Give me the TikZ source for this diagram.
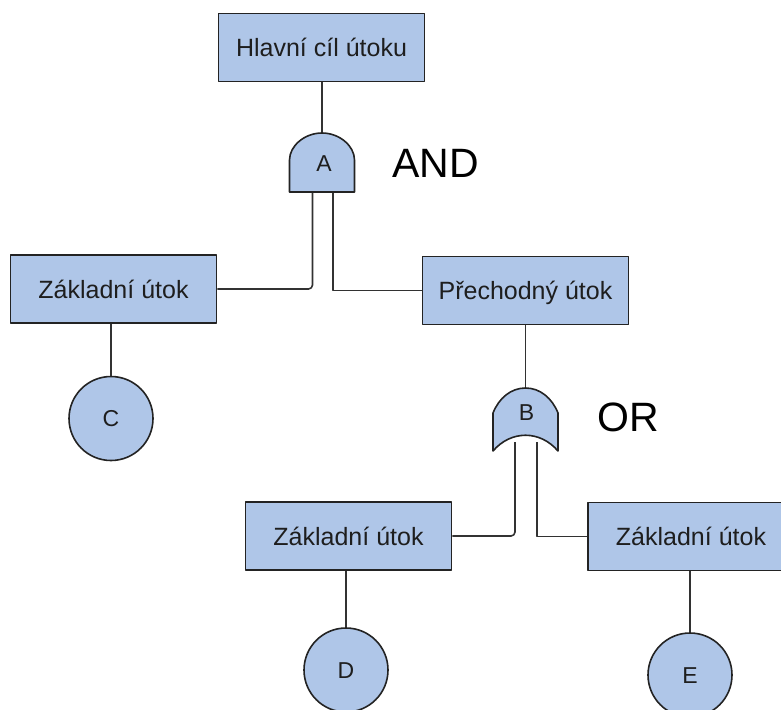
\documentclass[tikz,border=0pt]{standalone}
\usepackage{fontspec}
\setmainfont{Liberation Sans}
\begin{document}
\begin{tikzpicture}[x=1pt,y=-1pt,
  line join=round,
  attackbox/.style={draw=boxedge, line width=1.8pt, fill=nodefill, inner sep=0pt,
    minimum width=206pt, minimum height=68pt, text=labeltext,
    font=\fontsize{25}{30}\selectfont, text height=18pt, text depth=0pt},
  leaf/.style={circle, draw=boxedge, line width=1.6pt, fill=nodefill, inner sep=0pt,
    minimum size=84pt, text=labeltext,
    font=\fontsize{23}{28}\selectfont, text height=16.5pt, text depth=0pt},
  gatebody/.style={draw=boxedge, line width=1.6pt, fill=nodefill},
  gatetext/.style={inner sep=0pt, text=labeltext,
    font=\fontsize{23}{28}\selectfont, text height=16.5pt, text depth=0pt},
  gatename/.style={inner sep=0pt, anchor=west, text=black,
    font=\fontsize{41}{48}\selectfont},
  wire/.style={draw=wirecol, line width=1.6pt}
]
\definecolor{nodefill}{RGB}{175,198,232}
\definecolor{boxedge}{RGB}{35,35,35}
\definecolor{wirecol}{RGB}{50,50,50}
\definecolor{labeltext}{RGB}{30,30,30}

\useasboundingbox (0,0) rectangle (781,709);
\clip (0,0) rectangle (781,709);

% attack steps
\node[attackbox] (goal)  at (321.5,47.5)  {Hlavní cíl útoku};
\node[attackbox] (basic1) at (113.5,289)  {Základní útok};
\node[attackbox] (inter) at (525.5,290.5) {Přechodný útok};
\node[attackbox] (basic2) at (348.5,536)  {Základní útok};
\node[attackbox] (basic3) at (691,536.5)  {Základní útok};

% leaves
\node[leaf] (C) at (111,418.5) {C};
\node[leaf] (D) at (346,670)   {D};
\node[leaf] (E) at (690,675)   {E};

% gate anchor points
\coordinate (Atop)   at (322,133);
\coordinate (Aleft)  at (312.5,192);
\coordinate (Aright) at (333,192);
\coordinate (Btop)   at (525.5,388);
\coordinate (Bleft)  at (515,442);
\coordinate (Bright) at (537,442);

% connectors
\draw[wire] (goal.south -| Atop) -- (Atop);
\draw[wire, rounded corners=4pt] (Aleft) |- (basic1.east);
\draw[wire] (Aright) |- (inter.west);
\draw[wire] (inter.south -| Btop) -- (Btop);
\draw[wire, rounded corners=4pt] (Bleft) |- (basic2.east);
\draw[wire] (Bright) |- (basic3.west);
\draw[wire] (C.north) -- (C.north |- basic1.south);
\draw[wire] (D.north) -- (D.north |- basic2.south);
\draw[wire] (E.north) -- (E.north |- basic3.south);

% AND gate
\draw[gatebody] (289.5,192) -- (289.5,160)
  .. controls (289.5,146) and (304.5,133) .. (322,133)
  .. controls (339.5,133) and (354.5,146) .. (354.5,160)
  -- (354.5,192) -- cycle;
\node[gatetext] (A) at (324,163.5) {A};
\node[gatename] (andlabel) at (392,163.5) {AND};

% OR gate
\draw[gatebody] (493,451) -- (493,413)
  .. controls (499,398) and (511,388) .. (525.5,388)
  .. controls (540,388) and (552,398) .. (558,413)
  -- (558,451)
  .. controls (540,430) and (511,430) .. (493,451) -- cycle;
\node[gatetext] (B) at (526.5,412.5) {B};
\node[gatename] (orlabel) at (597,417) {OR};
\end{tikzpicture}
\end{document}
